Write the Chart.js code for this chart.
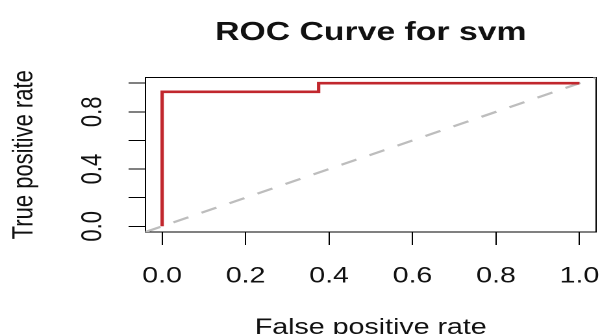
<!DOCTYPE html>
<html>
<head>
<meta charset="utf-8">
<script src="https://cdn.jsdelivr.net/npm/chart.js@4"></script>
<style>
    html, body { margin: 0; padding: 0; background: #fff; overflow: hidden; }
    /* the reference is stretched sideways, so the chart is drawn narrower and scaled */
    #wrap { width: 462px; height: 334px; transform: scaleX(1.2987); transform-origin: 0 0; }
</style>
</head>
<body>
<div id="wrap"><canvas id="rocChart" width="462" height="334"></canvas></div>
<script>
// ROC data
const fpr = [0, 0, 0.375, 0.375, 1];
const tpr = [0, 0.94, 0.94, 1, 1];
const chanceLine = [-0.04, 1.04];

// Axes
const axisMin = -0.04;
const axisMax = 1.04;
const xTicks = [0, 0.2, 0.4, 0.6, 0.8, 1.0];
const xTickLabels = ['0.0', '0.2', '0.4', '0.6', '0.8', '1.0'];
const yTicks = [0, 0.2, 0.4, 0.6, 0.8, 1.0];
const yTickLabels = ['0.0', '', '0.4', '', '0.8', ''];

const fontFamily = "'Liberation Sans', Arial, sans-serif";
const ink = '#111';

// Box around the plot region
const framePlugin = {
    id: 'frame',
    beforeDatasetsDraw(chart) {
        const {ctx, chartArea} = chart;
        ctx.save();
        ctx.strokeStyle = '#000';
        ctx.lineWidth = 1;
        ctx.strokeRect(chartArea.left, chartArea.top,
            chartArea.right - chartArea.left, chartArea.bottom - chartArea.top);
        ctx.restore();
    }
};

const ctx = document.getElementById('rocChart').getContext('2d');
new Chart(ctx, {
    type: 'line',
    data: {
        datasets: [{
            label: 'svm',
            data: fpr.map((x, i) => ({x: x, y: tpr[i]})),
            borderColor: '#c1272d',
            borderWidth: 2.6,
            pointRadius: 0,
            tension: 0,
            order: 0
        }, {
            label: 'chance',
            data: chanceLine.map(v => ({x: v, y: v})),
            borderColor: '#bdbdbd',
            borderWidth: 2.2,
            borderDash: [12.6, 11],
            pointRadius: 0,
            tension: 0,
            order: 1
        }]
    },
    options: {
        responsive: false,
        devicePixelRatio: 2,
        animation: false,
        layout: { padding: { left: 0, right: 3, top: 0, bottom: 0 } },
        plugins: {
            legend: { display: false },
            tooltip: { enabled: false },
            title: {
                display: true,
                text: 'ROC Curve for svm',
                fullSize: false,
                color: ink,
                font: { family: fontFamily, size: 26, weight: 'bold', lineHeight: 1.2 },
                padding: { top: 17, bottom: 29.3 }
            }
        },
        scales: {
            x: {
                type: 'linear',
                min: axisMin,
                max: axisMax,
                afterBuildTicks: scale => { scale.ticks = xTicks.map(v => ({value: v})); },
                afterFit: scale => {
                    scale.height = 102;
                    scale.paddingLeft = 0;
                    scale.paddingRight = 0;
                },
                grid: { display: true, drawOnChartArea: false, drawTicks: true, tickLength: 13, color: '#000' },
                border: { display: true, color: '#000', width: 1 },
                ticks: {
                    autoSkip: false,
                    maxRotation: 0,
                    padding: 18,
                    color: ink,
                    font: { family: fontFamily, size: 22 },
                    callback: (value, index) => xTickLabels[index]
                },
                title: {
                    display: true,
                    text: 'False positive rate',
                    color: ink,
                    font: { family: fontFamily, size: 22, lineHeight: 1.2 },
                    padding: { top: 0, bottom: -7 }
                }
            },
            y: {
                type: 'linear',
                min: axisMin,
                max: axisMax,
                afterBuildTicks: scale => { scale.ticks = yTicks.map(v => ({value: v})); },
                afterFit: scale => {
                    scale.width = 112;
                    scale.paddingTop = 0;
                    scale.paddingBottom = 0;
                },
                grid: { display: true, drawOnChartArea: false, drawTicks: true, tickLength: 13, color: '#000' },
                border: { display: true, color: '#000', width: 1 },
                ticks: {
                    autoSkip: false,
                    minRotation: 90,
                    maxRotation: 90,
                    crossAlign: 'center',
                    padding: 12,
                    color: ink,
                    font: { family: fontFamily, size: 22 },
                    callback: (value, index) => yTickLabels[index]
                },
                title: {
                    display: true,
                    text: 'True positive rate',
                    color: ink,
                    font: { family: fontFamily, size: 22, lineHeight: 1.2 },
                    padding: { top: 5.5, bottom: 0 }
                }
            }
        }
    },
    plugins: [framePlugin]
});
</script>
</body>
</html>
